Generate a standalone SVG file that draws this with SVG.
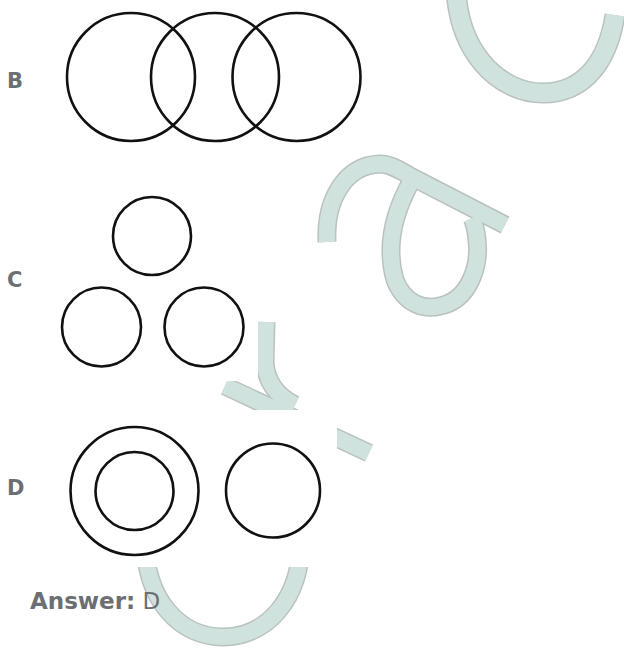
<svg xmlns="http://www.w3.org/2000/svg" width="624" height="648" viewBox="0 0 624 648">
<style>
.wm-o{fill:none;stroke:#b9c2bf;stroke-width:19}
.wm-i{fill:none;stroke:#d0e2de;stroke-width:16}
.fig{fill:none;stroke:#111;stroke-width:2.6}
.lbl{font-family:"DejaVu Sans",sans-serif;font-weight:bold;font-size:21px;fill:#6b6f73}
.ans{font-family:"DejaVu Sans",sans-serif;font-size:23px;fill:#6b6f73}
</style>
<rect width="624" height="648" fill="#fff"/>
<g id="watermark">
  <path class="wm-o" d="M456 -30 C452 52 500 93 543 93 C585 93 608 60 615 15" style="stroke-width:21"/>
  <path class="wm-i" d="M456 -30 C452 52 500 93 543 93 C585 93 608 60 615 15" style="stroke-width:18"/>
  <path class="wm-o" d="M327 242 C325 200 345 165 380 164 C390 164 400 170 410 176 L505 225"/>
  <path class="wm-o" d="M412 180 C395 210 385 245 395 280 C405 305 425 310 440 306 C470 300 480 265 477 240 C476 230 474 222 472 218"/>
  <path class="wm-i" d="M327 242 C325 200 345 165 380 164 C390 164 400 170 410 176 L505 225"/>
  <path class="wm-i" d="M412 180 C395 210 385 245 395 280 C405 305 425 310 440 306 C470 300 480 265 477 240 C476 230 474 222 472 218"/>
  <path class="wm-o" d="M225 386 L369 453"/>
  <path class="wm-o" d="M266 322 L265 362 C266 380 275 395 295 405"/>
  <path class="wm-i" d="M225 386 L369 453"/>
  <path class="wm-i" d="M266 322 L265 362 C266 380 275 395 295 405"/>
  <path class="wm-o" d="M145 540 C145 600 180 637 223 637 C266 637 301 600 301 540"/>
  <path class="wm-i" d="M145 540 C145 600 180 637 223 637 C266 637 301 600 301 540"/>
</g>
<rect x="50" y="185" width="208" height="196" fill="#fff"/>
<rect x="50" y="410" width="287" height="157" fill="#fff"/>
<g id="optionB">
  <circle class="fig" cx="131" cy="77" r="64"/>
  <circle class="fig" cx="215" cy="77" r="64"/>
  <circle class="fig" cx="296.5" cy="77" r="64"/>
</g>
<g id="optionC">
  <circle class="fig" cx="152" cy="236" r="39"/>
  <circle class="fig" cx="101.5" cy="327" r="39.5"/>
  <circle class="fig" cx="204" cy="327" r="39.5"/>
</g>
<g id="optionD">
  <circle class="fig" cx="134.5" cy="491" r="64"/>
  <circle class="fig" cx="134.5" cy="491" r="39"/>
  <circle class="fig" cx="273" cy="490.5" r="47"/>
</g>
<g id="labels">
  <text class="lbl" x="7" y="88">B</text>
  <text class="lbl" x="7" y="287">C</text>
  <text class="lbl" x="7" y="495">D</text>
  <text class="ans" x="30" y="609"><tspan font-weight="bold">Answer:</tspan> D</text>
</g>
</svg>
